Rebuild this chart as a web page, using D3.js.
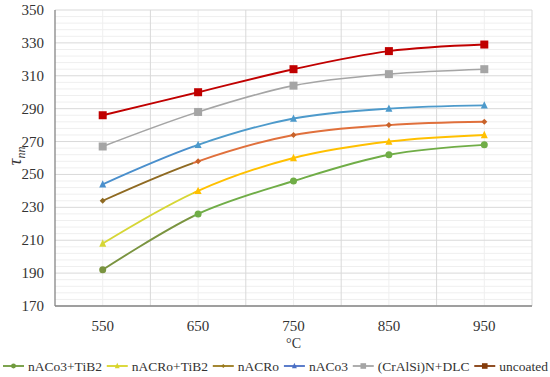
<!DOCTYPE html>
<html>
<head>
<meta charset="utf-8">
<script src="https://cdn.jsdelivr.net/npm/d3@7"></script>
<style>
@font-face { font-family: "ChartSerif"; src: local("Liberation Serif"), local("LiberationSerif"); }
@font-face { font-family: "ChartSerif"; font-style: italic; src: local("Liberation Serif Italic"), local("LiberationSerif-Italic"); }
</style>
</head>
<body style="margin:0">
<script>
const temps = [550, 650, 750, 850, 950];
const yTicks = [170, 190, 210, 230, 250, 270, 290, 310, 330, 350];

const seriesNames = ["nACo3+TiB2", "nACRo+TiB2", "nACRo", "nACo3", "(CrAlSi)N+DLC", "uncoated"];
const nACo3TiB2 = [192, 226, 246, 262, 268];
const nACRoTiB2 = [208, 240, 260, 270, 274];
const nACRo = [234, 258, 274, 280, 282];
const nACo3 = [244, 268, 284, 290, 292];
const crAlSiN = [267, 288, 304, 311, 314];
const uncoated = [286, 300, 314, 325, 329];

const width = 550, height = 377;
const margin = { top: 10, right: 18, bottom: 71, left: 55 };
const FONT = "Liberation Serif";

const series = [
  { name: seriesNames[0], values: nACo3TiB2, color: "#70ad47", first: "#7a9440", marker: "circle", size: 7 },
  { name: seriesNames[1], values: nACRoTiB2, color: "#ffc000", first: "#d6d636", marker: "triangle", size: 7 },
  { name: seriesNames[2], values: nACRo, color: "#e0703c", first: "#8f6a22", marker: "diamond", size: 6 },
  { name: seriesNames[3], values: nACo3, color: "#4d9acb", first: "#4a8fcc", marker: "triangle", size: 7 },
  { name: seriesNames[4], values: crAlSiN, color: "#a5a5a5", first: "#a5a5a5", marker: "square", size: 8 },
  { name: seriesNames[5], values: uncoated, color: "#c00000", first: "#c00000", marker: "square", size: 8 }
];
const legendColors = ["#6f9a3c", "#d8d52a", "#9a7a1c", "#4a6fc4", "#a5a5a5", "#843c0c"];

const svg = d3.select("body").append("svg")
  .attr("width", width)
  .attr("height", height);

const x = d3.scaleBand()
  .domain(temps)
  .range([margin.left, width - margin.right]);

const y = d3.scaleLinear()
  .domain([170, 350])
  .range([height - margin.bottom, margin.top]);

const px = d => x(d) + x.bandwidth() / 2;

// same way of adding text as the font test that worked
function label(parent, tx, ty, size, str) {
  return parent.append("text")
    .attr("x", tx)
    .attr("y", ty)
    .attr("font-size", size)
    .style("font-family", FONT)
    .text(str);
}

// minor horizontal grid
svg.append("g").selectAll("line")
  .data(d3.range(170, 351, 4).filter(v => (v - 170) % 20 !== 0))
  .enter().append("line")
  .attr("x1", margin.left).attr("x2", width - margin.right)
  .attr("y1", d => y(d)).attr("y2", d => y(d))
  .attr("stroke", "#efefef");

// minor vertical grid at categories
svg.append("g").selectAll("line")
  .data(temps)
  .enter().append("line")
  .attr("x1", d => px(d)).attr("x2", d => px(d))
  .attr("y1", y(350)).attr("y2", y(170))
  .attr("stroke", "#efefef");

// major grid
svg.append("g").selectAll("line")
  .data(yTicks)
  .enter().append("line")
  .attr("x1", margin.left).attr("x2", width - margin.right)
  .attr("y1", d => y(d)).attr("y2", d => y(d))
  .attr("stroke", "#d9d9d9");

svg.append("g").selectAll("line")
  .data(temps.slice(1).concat(["end"]))
  .enter().append("line")
  .attr("x1", d => d === "end" ? width - margin.right : x(d))
  .attr("x2", d => d === "end" ? width - margin.right : x(d))
  .attr("y1", y(350)).attr("y2", y(170))
  .attr("stroke", "#d9d9d9");

// axes lines
svg.append("line")
  .attr("x1", margin.left).attr("x2", width - margin.right)
  .attr("y1", y(170)).attr("y2", y(170))
  .attr("stroke", "#868686").attr("stroke-width", 1.3);
svg.append("line")
  .attr("x1", margin.left).attr("x2", margin.left)
  .attr("y1", y(350)).attr("y2", y(170))
  .attr("stroke", "#868686").attr("stroke-width", 1.3);

// tick labels
yTicks.forEach(d => {
  label(svg, 44, y(d) + 5, 15, d).attr("text-anchor", "end").attr("fill", "#333");
});
temps.forEach(d => {
  label(svg, px(d), 331, 15, d).attr("text-anchor", "middle").attr("fill", "#333");
});

// axis titles
label(svg, px(750), 348, 14, "°C").attr("text-anchor", "middle").attr("fill", "#333");

const yTitle = svg.append("text")
  .attr("transform", "translate(21,156) rotate(-90)")
  .attr("text-anchor", "middle")
  .attr("font-size", 19)
  .attr("font-style", "italic")
  .attr("fill", "#333")
  .style("font-family", FONT);
yTitle.append("tspan").text("τ");
yTitle.append("tspan").attr("font-size", 12).attr("dy", 4).text("nn");

// lines
const line = d3.line()
  .x((d, i) => px(temps[i]))
  .y(d => y(d))
  .curve(d3.curveCatmullRom.alpha(0.5));

const defs = svg.append("defs");
defs.append("clipPath").attr("id", "firstSeg")
  .append("rect")
  .attr("x", px(550) - 5).attr("y", 0)
  .attr("width", px(650) - px(550)).attr("height", height);
defs.append("clipPath").attr("id", "restSeg")
  .append("rect")
  .attr("x", px(650) - 5).attr("y", 0)
  .attr("width", width).attr("height", height);

function drawMarker(g, type, size, color) {
  if (type === "circle") {
    g.append("circle").attr("r", size / 2).attr("fill", color);
  } else if (type === "square") {
    g.append("rect").attr("x", -size / 2).attr("y", -size / 2)
      .attr("width", size).attr("height", size).attr("fill", color);
  } else if (type === "triangle") {
    const h = size * 0.9;
    g.append("path")
      .attr("d", `M0,${-h / 2 - 1}L${size / 2},${h / 2}L${-size / 2},${h / 2}Z`)
      .attr("fill", color);
  } else if (type === "diamond") {
    g.append("path")
      .attr("d", `M0,${-size / 2}L${size / 2},0L0,${size / 2}L${-size / 2},0Z`)
      .attr("fill", color);
  }
}

series.forEach(s => {
  const g = svg.append("g");
  const sw = s.name === "(CrAlSi)N+DLC" ? 1.6 : 1.9;
  g.append("path")
    .datum(s.values)
    .attr("d", line)
    .attr("fill", "none")
    .attr("stroke", s.first)
    .attr("stroke-width", sw)
    .attr("clip-path", "url(#firstSeg)");
  g.append("path")
    .datum(s.values)
    .attr("d", line)
    .attr("fill", "none")
    .attr("stroke", s.color)
    .attr("stroke-width", sw)
    .attr("clip-path", "url(#restSeg)");

  s.values.forEach((v, i) => {
    const m = g.append("g").attr("transform", `translate(${px(temps[i])},${y(v)})`);
    let c = i === 0 ? s.first : s.color;
    if (s.name === "nACRo" && i > 0) c = "#c8622a";
    drawMarker(m, s.marker, s.size, c);
  });
});

// legend: measure, then spread across the width so it always fits
const items = series.map((s, i) => {
  const item = svg.append("g");
  const col = legendColors[i];
  item.append("line").attr("x1", 0).attr("x2", 21).attr("y1", 0).attr("y2", 0)
    .attr("stroke", col).attr("stroke-width", 1.8);
  const m = item.append("g").attr("transform", "translate(10.5,0)");
  drawMarker(m, s.marker, s.size * 0.7, col);
  const t = label(item, 25, 4.5, 13.5, s.name).attr("fill", "#333");
  return { item, w: 25 + t.node().getComputedTextLength() };
});
const total = d3.sum(items, d => d.w);
const gap = Math.max(4, (545 - total) / (items.length - 1));
let lx = 3;
items.forEach(d => {
  d.item.attr("transform", `translate(${lx},366)`);
  lx += d.w + gap;
});
</script>
</body>
</html>
